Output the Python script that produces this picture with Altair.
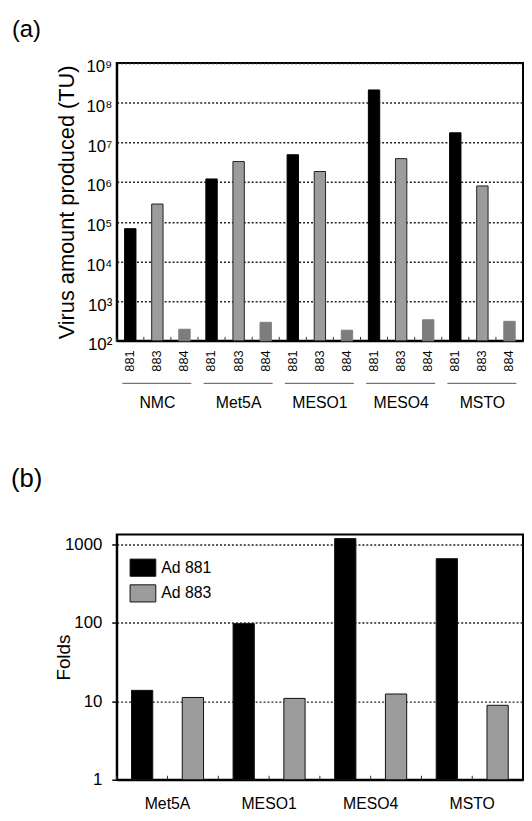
import altair as alt
import pandas as pd

# ---------------- data ----------------
cells_a = ["NMC", "Met5A", "MESO1", "MESO4", "MSTO"]
viruses_a = ["881", "883", "884"]
tu_881 = [6.7e4, 1.2e6, 4.9e6, 2.1e8, 1.75e7]
tu_883 = [2.8e5, 3.3e6, 1.85e6, 3.9e6, 8.0e5]
tu_884 = [196, 293, 185, 339, 310]
y_ticks_a = [1e2, 1e3, 1e4, 1e5, 1e6, 1e7, 1e8, 1e9]

cells_b = ["Met5A", "MESO1", "MESO4", "MSTO"]
viruses_b = ["881", "883"]
folds_881 = [13.8, 98, 1190, 660]
folds_883 = [11.2, 10.9, 12.4, 8.9]
y_ticks_b = [1, 10, 100, 1000]

FONT = "Liberation Sans"
NARROW = "Liberation Sans Narrow, Liberation Sans"
FILL_A = ["#000000", "#9c9c9c", "#7d7d7d"]
STROKE_A = ["#000000", "#222222", "#7d7d7d"]

# ---------------- tables ----------------
rows_a = []
for i, c in enumerate(cells_a):
    for v, vals in zip(viruses_a, [tu_881, tu_883, tu_884]):
        rows_a.append({"cell": c, "virus": v, "key": f"{c} {v}", "value": vals[i]})
df_a = pd.DataFrame(rows_a)
keys_a = list(df_a["key"])
groups_a = pd.DataFrame({
    "cell": cells_a,
    "first": [f"{c} {viruses_a[0]}" for c in cells_a],
    "mid": [f"{c} {viruses_a[1]}" for c in cells_a],
    "last": [f"{c} {viruses_a[2]}" for c in cells_a],
})

rows_b = []
for i, c in enumerate(cells_b):
    for v, vals in zip(viruses_b, [folds_881, folds_883]):
        rows_b.append({"cell": c, "virus": v, "key": f"{c} {v}", "value": vals[i]})
df_b = pd.DataFrame(rows_b)
keys_b = list(df_b["key"])

W = 411

# ---------------- panel (a) ----------------
H_A = 281
xa = alt.Scale(domain=keys_a, paddingInner=0, paddingOuter=0)
ya = alt.Scale(type="log", domain=[1e2, 1e9])
ax_xa = alt.Axis(title=None, labelExpr="slice(datum.value, -3)", labelAngle=270,
                 labelFont=NARROW, labelFontSize=13, labelPadding=9, ticks=False,
                 labelOverlap=False)
sup = "['\u2070','\u00b9','\u00b2','\u00b3','\u2074','\u2075','\u2076','\u2077','\u2078','\u2079']"
ax_ya = alt.Axis(title="Virus amount produced (TU)", values=y_ticks_a,
                 labelExpr="'10' + " + sup + "[round(log(datum.value)/LN10)]",
                 grid=True, gridDash=[2, 2], gridColor="#222222", gridWidth=1.5,
                 ticks=False, labelFontSize=17, labelPadding=5, labelOffset=4,
                 titleFontSize=22, titleFontWeight="normal", titlePadding=8)

bars_a = alt.Chart(df_a).mark_bar(width=11.5, strokeWidth=1).encode(
    x=alt.X("key:N", scale=xa, axis=ax_xa),
    y=alt.Y("value:Q", scale=ya, axis=ax_ya, stack=None),
    y2=alt.Y2(datum=1e2),
    fill=alt.Fill("virus:N", scale=alt.Scale(domain=viruses_a, range=FILL_A), legend=None),
    stroke=alt.Stroke("virus:N", scale=alt.Scale(domain=viruses_a, range=STROKE_A), legend=None),
)
ticks_a = alt.Chart(df_a).mark_rule(color="#333333", strokeWidth=1).encode(
    x=alt.X("key:N", scale=xa, axis=ax_xa, bandPosition=0),
    y=alt.value(H_A), y2=alt.value(H_A - 4),
)
under_a = alt.Chart(groups_a).mark_rule(color="#555555", strokeWidth=1, xOffset=-8, x2Offset=7).encode(
    x=alt.X("first:N", scale=xa, axis=ax_xa),
    x2="last:N",
    y=alt.value(H_A + 43),
)
text_a = alt.Chart(groups_a).mark_text(font=FONT, fontSize=16, baseline="middle", color="black").encode(
    x=alt.X("mid:N", scale=xa, axis=ax_xa),
    y=alt.value(H_A + 63),
    text="cell:N",
)
panel_a = alt.layer(bars_a, ticks_a, under_a, text_a).properties(
    width=W, height=H_A,
    title=alt.Title("(a)", anchor="start", frame="group", dx=-106, fontSize=24,
                    fontWeight="normal", font=FONT, offset=16),
)

# ---------------- panel (b) ----------------
H_B = 248
xb = alt.Scale(domain=keys_b, paddingInner=0, paddingOuter=0)
yb = alt.Scale(type="log", domain=[1, 1340])
ax_xb = alt.Axis(title=None, labelAngle=0,
                 labelExpr="slice(datum.value, -3) == '881' ? slice(datum.value, 0, -4) : ''",
                 labelOffset=W / 16, labelPadding=16, labelFontSize=16, ticks=False,
                 labelOverlap=False)
ax_yb = alt.Axis(title="Folds", values=y_ticks_b, format="d", grid=True,
                 gridDash=[2, 2], gridColor="#222222", gridWidth=1.5,
                 tickSize=5, tickColor="black", tickWidth=1.5,
                 labelFont=NARROW, labelFontSize=17, labelPadding=10,
                 titleFontSize=19, titleFontWeight="normal", titleX=-44)

bars_b = alt.Chart(df_b).mark_bar(width=21.5, stroke="#111111", strokeWidth=1).encode(
    x=alt.X("key:N", scale=xb, axis=ax_xb),
    y=alt.Y("value:Q", scale=yb, axis=ax_yb, stack=None),
    y2=alt.Y2(datum=1),
    fill=alt.Fill("virus:N", scale=alt.Scale(domain=viruses_b, range=FILL_A[:2]),
                  legend=alt.Legend(title=None, orient="none", legendX=13, legendY=20,
                                    symbolType="M-1,-0.667H1V0.667H-1Z", symbolSize=676,
                                    symbolStrokeColor="#111111", symbolStrokeWidth=1,
                                    labelExpr="'Ad ' + datum.label", labelFont=FONT,
                                    labelFontSize=16, labelColor="black", labelOffset=5,
                                    rowPadding=1)),
)
ticks_b = alt.Chart(df_b).mark_rule(color="#333333", strokeWidth=1).encode(
    x=alt.X("key:N", scale=xb, axis=ax_xb, bandPosition=0),
    y=alt.value(H_B), y2=alt.value(H_B - 4),
)
panel_b = alt.layer(bars_b, ticks_b).properties(
    width=W, height=H_B,
    title=alt.Title("(b)", anchor="start", frame="group", dx=-107, fontSize=26,
                    fontWeight="normal", font=FONT, offset=43),
)

chart = alt.vconcat(panel_a, panel_b, spacing=54).resolve_scale(
    fill="independent", stroke="independent", x="independent", y="independent"
).properties(
    padding={"left": 2, "top": 5, "right": 0, "bottom": 0}
).configure_view(
    stroke="black", strokeWidth=2
).configure_axis(
    labelFont=FONT, titleFont=FONT, labelColor="black", titleColor="black",
    domainColor="black", domainWidth=2
).configure_title(font=FONT, color="black")

chart.save("out.html", embed_options={"renderer": "svg", "actions": False})
